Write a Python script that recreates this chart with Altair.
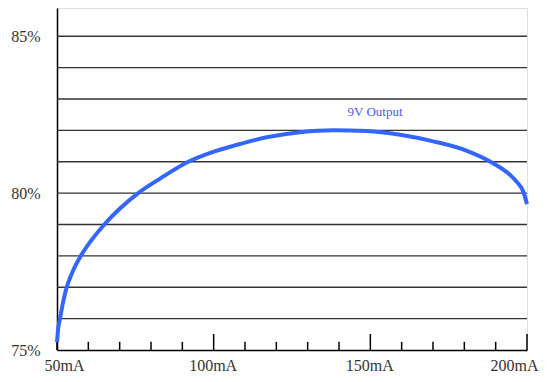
import altair as alt
import pandas as pd

# Curve values
current_ma = [50.0, 50.4, 50.96, 52.0, 53.1, 55.0, 57.6, 61.0, 65.1, 70.0, 75.9, 83.0,
              91.9, 99.4, 106.8, 116.9, 127.6, 138.2, 148.9, 159.5, 170.1, 180.8,
              188.2, 194.6, 196.8, 198.8, 200.0]
efficiency = [75.25, 75.7, 76.0, 76.55, 77.0, 77.5, 78.0, 78.5, 79.0, 79.5, 80.0, 80.47,
              81.0, 81.30, 81.52, 81.78, 81.94, 82.00, 81.98, 81.86, 81.65, 81.35,
              81.01, 80.58, 80.35, 80.05, 79.65]

series_label = ["9V Output"]
label_pos_ma = [151.5]
label_pos_pct = [82.6]

x_major = [50, 100, 150, 200]
x_minor = [60, 70, 80, 90, 110, 120, 130, 140, 160, 170, 180, 190]
y_grid = list(range(76, 86))
y_labels = [75, 80, 85]

df = pd.DataFrame({"ma": current_ma, "eff": efficiency})
lab = pd.DataFrame({"ma": label_pos_ma, "eff": label_pos_pct, "t": series_label})
major = pd.DataFrame({"ma": x_major})
minor = pd.DataFrame({"ma": x_minor})
grid = pd.DataFrame({"eff": y_grid})

FONT = "Liberation Serif"

xscale = alt.Scale(domain=[50, 200], nice=False, zero=False)
yscale = alt.Scale(domain=[75, 85.9], nice=False, zero=False)

xaxis = alt.Axis(values=x_major, labelExpr="datum.value + 'mA'", ticks=False, grid=False,
                 title=None, labelFont=FONT, labelFontSize=16, labelColor="#333",
                 labelPadding=7, domainColor="black", domainWidth=1.5,
                 labelFlush=True, labelFlushOffset=12, labelOffset=-1)
yaxis = alt.Axis(values=y_labels, labelExpr="datum.value + '%'",
                 ticks=False, grid=False,
                 title=None, labelFont=FONT, labelFontSize=16, labelColor="#333",
                 labelPadding=17, domainColor="black", domainWidth=1.5, labelFlush=False)

gridlines = alt.Chart(grid).mark_rule(color="#333", strokeWidth=1.3).encode(
    y=alt.Y("eff:Q", scale=yscale, axis=yaxis),
    x=alt.datum(50, scale=xscale), x2=alt.datum(200),
)

line = alt.Chart(df).mark_line(color="#3366ff", strokeWidth=4, interpolate="monotone").encode(
    x=alt.X("ma:Q", scale=xscale, axis=xaxis),
    y=alt.Y("eff:Q", scale=yscale, axis=yaxis),
)

major_ticks = alt.Chart(major).mark_rule(color="black", strokeWidth=1.5).encode(
    x="ma:Q", y=alt.datum(75), y2=alt.datum(75.51)
)
minor_ticks = alt.Chart(minor).mark_rule(color="black", strokeWidth=1.5).encode(
    x="ma:Q", y=alt.datum(75), y2=alt.datum(75.26)
)

text = alt.Chart(lab).mark_text(font=FONT, fontSize=13, color="#4a5cf0", baseline="middle",
                                align="center").encode(
    x="ma:Q", y="eff:Q", text="t:N"
)

chart = alt.layer(gridlines, major_ticks, minor_ticks, line, text).properties(
    width=470, height=342,
    autosize=alt.AutoSizeParams(type="none"),
    padding={"left": 49, "top": 0, "right": 14, "bottom": 24},
).configure_view(stroke="black", strokeWidth=1.5).configure(background="white")

chart.save("out.html", embed_options={"renderer": "svg", "actions": False})
